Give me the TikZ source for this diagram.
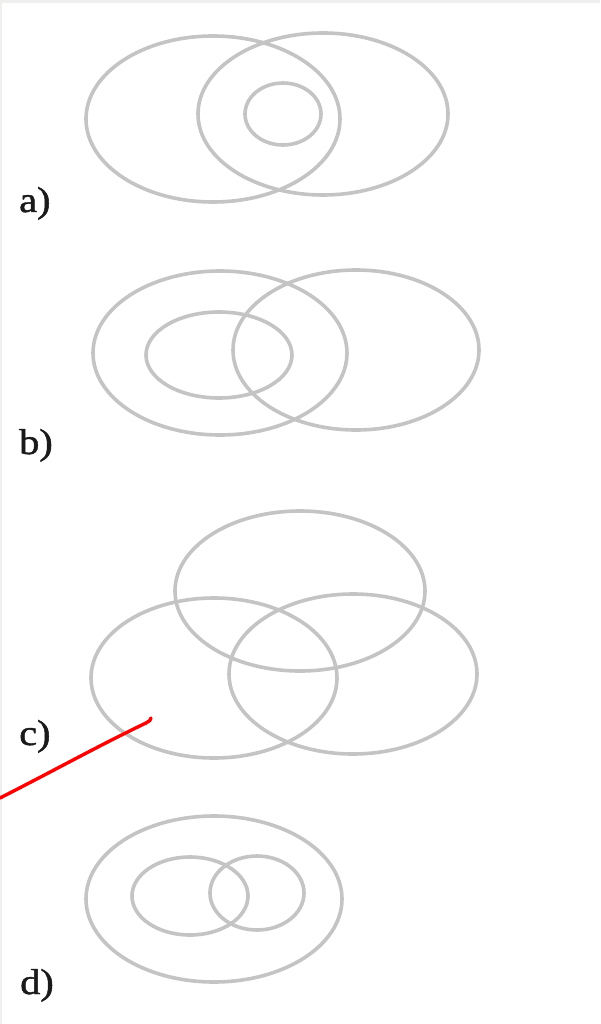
\documentclass[tikz,border=0pt]{standalone}
\usepackage{fontspec}
\setmainfont{Liberation Serif}
\newfontfamily\lblfont[FakeBold=1.2]{Liberation Serif}
\definecolor{ringgray}{HTML}{C4C4C4}
\definecolor{bandgray}{HTML}{EFEFED}
\definecolor{lblink}{HTML}{1A1A1A}
\begin{document}
\begin{tikzpicture}[x=1pt,y=-1pt,
  ring/.style={draw=ringgray,line width=3.6pt},
  lbl/.style={font=\lblfont\fontsize{36}{36}\selectfont,text=lblink,xscale=1.12,inner sep=0pt,anchor=base west},
  pen/.style={draw=red,line width=3.4pt,line cap=round,line join=round}]
\useasboundingbox (0,0) rectangle (600,1024);
\fill[white] (0,0) rectangle (600,1024);
\fill[bandgray] (0,0) rectangle (600,3);
\fill[bandgray] (0,0) rectangle (1.5,1024);
% a)
\draw[ring] (213,119) ellipse [x radius=127, y radius=83];
\draw[ring] (323,114) ellipse [x radius=125, y radius=81];
\draw[ring] (283,114) ellipse [x radius=38, y radius=31];
\node[lbl] (la) at (19,212) {a)};
% b)
\draw[ring] (220,353) ellipse [x radius=127, y radius=82];
\draw[ring] (356,350) ellipse [x radius=123, y radius=80];
\draw[ring] (219,355) ellipse [x radius=73, y radius=43];
\node[lbl] (lb) at (19,454) {b)};
% c)
\draw[ring] (300,591) ellipse [x radius=125, y radius=80];
\draw[ring] (214,678) ellipse [x radius=123, y radius=80];
\draw[ring] (353,674) ellipse [x radius=124, y radius=80];
\node[lbl] (lc) at (19,745) {c)};
% d)
\draw[ring] (214,899) ellipse [x radius=128, y radius=83];
\draw[ring] (190,896) ellipse [x radius=58, y radius=39];
\draw[ring] (257,893) ellipse [x radius=47, y radius=37];
\node[lbl] (ld) at (20,994) {d)};
% red stroke
\coordinate (r0) at (0,798);
\coordinate (r1) at (146,723);
\coordinate (r2) at (151,718);
\draw[pen] (r0) .. controls (55,770) and (100,745) .. (r1) .. controls (149,721.5) and (151,720) .. (r2);
\end{tikzpicture}
\end{document}
